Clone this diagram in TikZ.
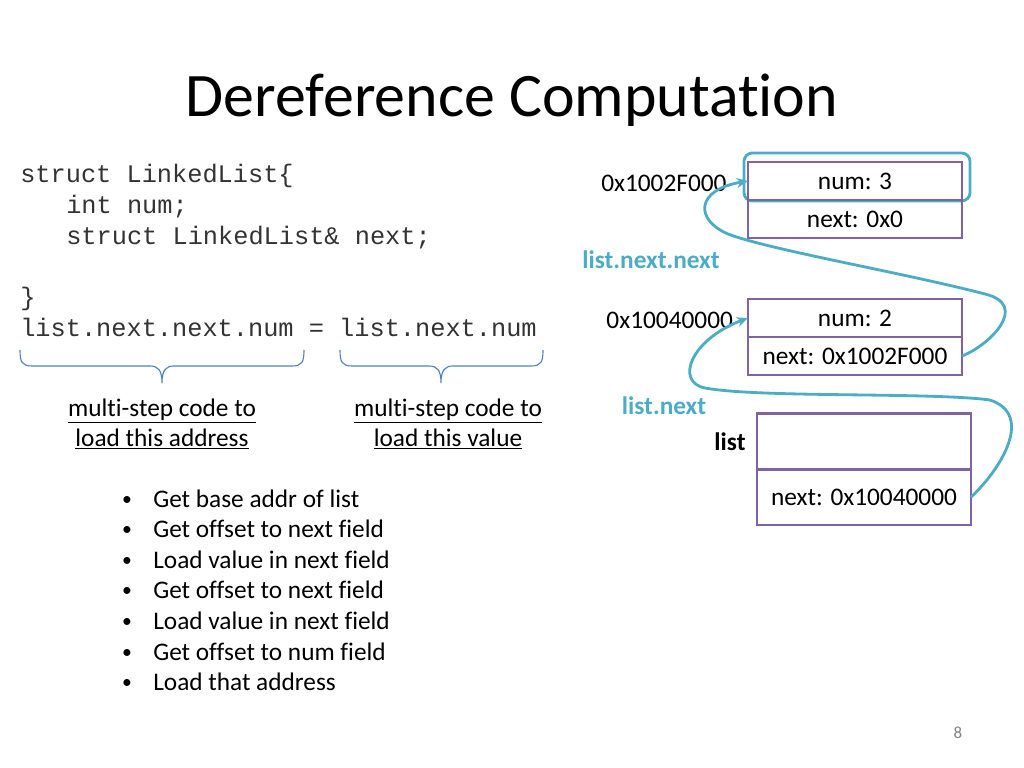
\documentclass[tikz,border=0pt]{standalone}
\usepackage{fontspec}
\setmainfont{Carlito}[Ligatures=NoCommon]
\setmonofont{Liberation Mono}
\usetikzlibrary{arrows.meta, positioning}

\definecolor{cellpurple}{RGB}{128,100,162}
\definecolor{ptrteal}{RGB}{75,172,198}
\definecolor{bracketblue}{RGB}{79,129,189}

\tikzset{
	cell/.style={draw=cellpurple, line width=1.8pt, outer sep=0pt, inner sep=0pt,
		minimum width=5.35cm, minimum height=0.95cm, font=\fontsize{18}{21.6}\selectfont},
	ptr/.style={ptrteal, line width=2pt, -{Stealth[length=8pt,width=7pt]}},
	code/.style={anchor=base west, inner sep=0pt, text=black!80, font=\ttfamily\fontsize{18}{21.6}\selectfont},
	body/.style={inner sep=0pt, font=\fontsize{18}{21.6}\selectfont},
	varname/.style={body, text=ptrteal, font=\bfseries\fontsize{18}{21.6}\selectfont},
	bracket/.style={draw=bracketblue, line width=0.8pt},
}

\begin{document}
\begin{tikzpicture}[x=0.025cm, y=-0.025cm]

	\useasboundingbox (0,0) rectangle (1024,768);

	\node[font=\fontsize{44}{50}\selectfont, anchor=base] (title) at (512,117) {Dereference Computation};

	% struct and statement
	\node[code] (c1) at (20,182) {struct LinkedList\{};
	\node[code] (c2) at (66,213) {int num;};
	\node[code] (c3) at (66,244) {struct LinkedList\& next;};
	\node[code] (c4) at (20,305) {\}};
	\node[code] (c5) at (20,336) {list.next.next.num = list.next.num};

	\draw[bracket] (20,350) .. controls (20,362) and (22,366) .. (32,366) -- (150,366)
		.. controls (158,366) and (162,370) .. (162,383)
		.. controls (162,370) and (166,366) .. (174,366) -- (292,366)
		.. controls (302,366) and (304,362) .. (304,350);
	\draw[bracket] (340,350) .. controls (340,362) and (342,366) .. (352,366) -- (429,366)
		.. controls (437,366) and (441,370) .. (441,383)
		.. controls (441,370) and (445,366) .. (453,366) -- (531,366)
		.. controls (541,366) and (543,362) .. (543,350);

	\node[body, align=center] (addrnote) at (162,424) {\underline{multi-step code to}\\\underline{load this address}};
	\node[body, align=center] (valnote) at (448,424) {\underline{multi-step code to}\\\underline{load this value}};

	% steps
	\foreach \txt [count=\i from 0] in {Get base addr of list, Get offset to next field,
		Load value in next field, Get offset to next field, Load value in next field,
		Get offset to num field, Load that address} {
		\node[body, anchor=base, font=\fontsize{14}{16}\selectfont] (dot\i) at (127,{505+30.6*\i}) {\textbullet};
		\node[body, anchor=base west] (step\i) at (153,{507+30.6*\i}) {\txt};
	}

	% memory
	\node[draw=ptrteal, line width=2pt, rounded corners=6pt, minimum width=5.65cm, minimum height=1.2cm] (hilite) at (857,177) {};
	\node[cell] (b1num) at (855,181) {num: 3};
	\node[cell, below=0pt of b1num] (b1next) {next: 0x0};
	\node[cell] (b2num) at (855,318) {num: 2};
	\node[cell, below=0pt of b2num] (b2next) {next: 0x1002F000};
	\node[cell, minimum height=1.39cm] (b3top) at (864,441.5) {};
	\node[cell, minimum height=1.39cm, below=0pt of b3top] (b3next) {next: 0x10040000};

	\node[body, left=0.53cm of b1num, yshift=-2pt] (addr1) {0x1002F000};
	\node[body, left=0.37cm of b2num, yshift=-2pt] (addr2) {0x10040000};
	\node[varname] (nn) at (651,260) {list.next.next};
	\node[varname] (n) at (664,406) {list.next};
	\node[body, font=\bfseries\fontsize{18}{21.6}\selectfont, left=0.28cm of b3top] (listname) {list};

	\draw[ptr] (b3next.east) .. controls (1000,470) and (1035,415) .. (990,400)
		.. controls (930,392) and (760,398) .. (705,388)
		.. controls (675,382) and (690,340) .. (b2num.west);
	\draw[ptr] (b2next.east) .. controls (990,345) and (1030,305) .. (985,294)
		.. controls (900,272) and (770,250) .. (728,234)
		.. controls (695,220) and (695,190) .. (b1num.west);

	\node[font=\fontsize{12}{14}\selectfont, text=gray] (pagenum) at (958,733) {8};

\end{tikzpicture}
\end{document}
